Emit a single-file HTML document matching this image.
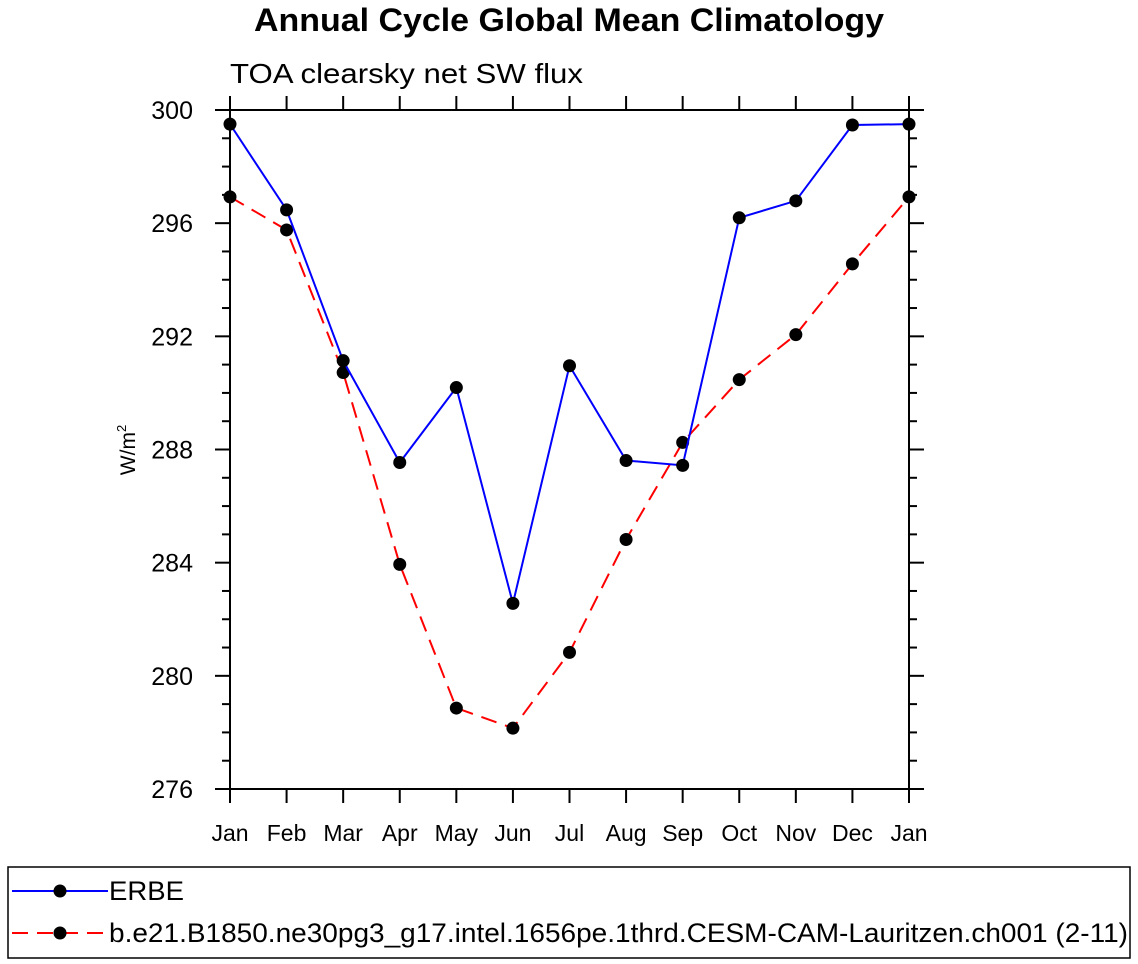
<!DOCTYPE html>
<html><head><meta charset="utf-8"><style>
body{margin:0;background:#fff;}
svg{display:block;font-family:"Liberation Sans",Helvetica,Arial,sans-serif;}
</style></head><body>
<svg id="chart" width="1138" height="964" viewBox="0 0 1138 964">
<text x="254" y="31" font-size="32" font-weight="bold" textLength="630" lengthAdjust="spacingAndGlyphs">Annual Cycle Global Mean Climatology</text>
<text x="230" y="83" font-size="28" textLength="353" lengthAdjust="spacingAndGlyphs">TOA clearsky net SW flux</text>
<text transform="translate(135,450) rotate(-90)" text-anchor="middle" font-size="21">W/m<tspan dy="-9" font-size="13">2</tspan></text>
<g id="axes"></g>
<g id="series"></g>
<g>
<rect x="8" y="867" width="1122" height="91" fill="none" stroke="#000" stroke-width="1.5"/>
<g>
<line x1="12" y1="891" x2="108" y2="891" stroke="#00f" stroke-width="2"/>
<circle cx="60" cy="891" r="6.5" fill="#000"/>
<text x="109" y="900" font-size="27" textLength="75" lengthAdjust="spacingAndGlyphs">ERBE</text>
</g>
<g>
<line x1="12" y1="933" x2="108" y2="933" stroke="#f00" stroke-width="2" stroke-dasharray="16,9"/>
<circle cx="60" cy="933" r="6.5" fill="#000"/>
<text x="109" y="942" font-size="27" textLength="1019" lengthAdjust="spacingAndGlyphs">b.e21.B1850.ne30pg3_g17.intel.1656pe.1thrd.CESM-CAM-Lauritzen.ch001 (2-11)</text>
</g>
</g>
</svg>
<script>
const months = ["Jan","Feb","Mar","Apr","May","Jun","Jul","Aug","Sep","Oct","Nov","Dec","Jan"];
const yTicks = [276,280,284,288,292,296,300];
const erbe = [299.5,296.47,291.14,287.54,290.19,282.56,290.96,287.61,287.44,296.19,296.79,299.47,299.5];
const model = [296.93,295.76,290.72,283.94,278.86,278.15,280.83,284.82,288.25,290.47,292.06,294.56,296.93];
const NS="http://www.w3.org/2000/svg";
const X0=230,X1=909,Y0=110,Y1=789,YMIN=276,YMAX=300;
function xs(i){return X0+(X1-X0)*i/(months.length-1);}
function ys(v){return Y1-(v-YMIN)/(YMAX-YMIN)*(Y1-Y0);}
function mk(t,a,p){const e=document.createElementNS(NS,t);for(const k in a)e.setAttribute(k,a[k]);p.appendChild(e);return e;}
const ax=document.getElementById('axes');
const frame=mk('rect',{x:X0,y:Y0,width:X1-X0,height:Y1-Y0,fill:'none',stroke:'#000','stroke-width':2},ax);


months.forEach((m,i)=>{
  const x=xs(i);
  mk('line',{x1:x,y1:Y1,x2:x,y2:Y1+14,stroke:'#000','stroke-width':2},ax);
  mk('line',{x1:x,y1:Y0,x2:x,y2:Y0-14,stroke:'#000','stroke-width':2},ax);
  const t=mk('text',{x:x,y:Y1+52,'text-anchor':'middle','font-size':23},ax);
  t.textContent=m;
  
  
});
for(let v=YMIN;v<=YMAX;v++){
  const y=ys(v),maj=(v%4===0),L=maj?15:8;
  mk('line',{x1:X0,y1:y,x2:X0-L,y2:y,stroke:'#000','stroke-width':2},ax);
  mk('line',{x1:X1,y1:y,x2:X1+L,y2:y,stroke:'#000','stroke-width':2},ax);
}
yTicks.forEach(v=>{
  const t=mk('text',{x:X0-37,y:ys(v)+9,'text-anchor':'end','font-size':25},ax);
  t.textContent=v;
  
  
});
const sg=document.getElementById('series');
function draw(vals,color,dash,name){
  const g=mk('g',{},sg);
  
  
  const pts=vals.map((v,i)=>xs(i)+','+ys(v)).join(' ');
  const a={points:pts,fill:'none',stroke:color,'stroke-width':2};
  if(dash)a['stroke-dasharray']=dash;
  mk('polyline',a,g);
  vals.forEach((v,i)=>{
    const c=mk('circle',{cx:xs(i),cy:ys(v),r:6.5,fill:'#000'},g);
    
    
  });
}
draw(model,'#f00','16,9','series-model');
draw(erbe,'#00f',null,'series-erbe');
</script>
</body></html>
